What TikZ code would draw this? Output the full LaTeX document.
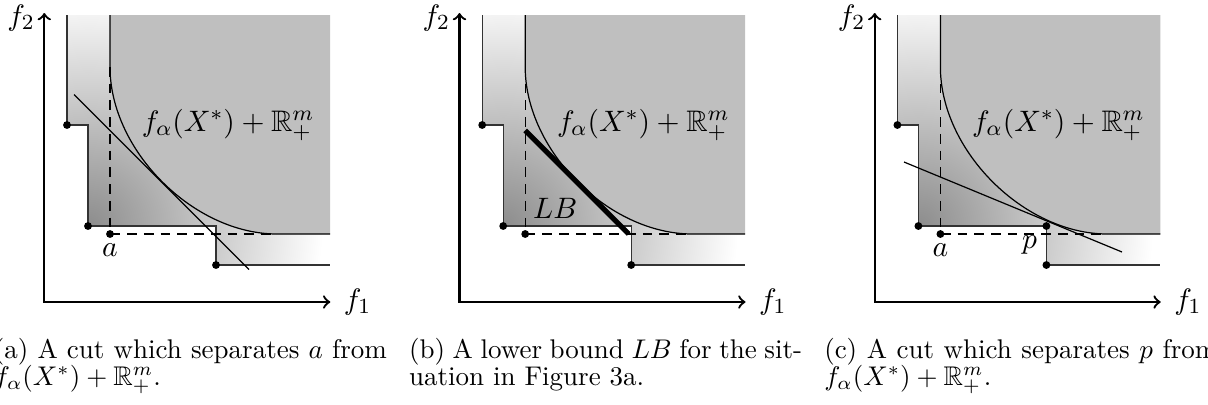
\documentclass[tikz,border=0pt]{standalone}
\usepackage{amsmath,amssymb}
\usepackage{tikz}
\tikzset{
  axisarr/.style = {<->,line width=0.85pt},
  front/.style   = {line width=0.45pt},
  stair/.style   = {line width=0.45pt,black!80},
  helper/.style  = {line width=0.45pt,dash pattern=on 3.6pt off 2.6pt},
  cutline/.style = {line width=0.45pt},
  lbline/.style  = {line width=1.9pt},
  dot/.style     = {circle,fill,inner sep=0pt,minimum size=2.9pt},
  setlabel/.style = {font=\fontsize{11pt}{13pt}\selectfont},
  caption/.style = {anchor=base west,inner sep=0pt,text width=145.6pt,align=justify,
                    font=\fontsize{10pt}{10.1pt}\selectfont}
}
\newcommand{\frontier}[1]{%
  \begin{scope}
    \clip (22.7,287) -- (22.7,177) -- (43.7,177) -- (43.7,76) -- (171.7,76)
          -- (171.7,37) -- (285.7,37) -- (285.7,287) -- cycle;
    \shade[inner color=black!45,outer color=white] (43.7,76) circle [radius=87pt];
  \end{scope}
  \fill[black!25] (65.7,287) -- (65.7,235) .. controls (65.7,151.5) and (149.2,68) .. (232.7,68)
        -- (285.7,68) -- (285.7,287) -- cycle;
  \draw[front] (65.7,287) -- (65.7,235) .. controls (65.7,151.5) and (149.2,68) .. (232.7,68)
        -- (285.7,68);
  \draw[stair] (22.7,287) -- (22.7,177) -- (43.7,177) -- (43.7,76) -- (171.7,76)
        -- (171.7,37) -- (285.7,37);
  \draw[helper] (65.7,235) -- (65.7,68) -- (232.7,68);
  \draw[axisarr] (0,289) -- (0,0) -- (286,0);
  \node[dot] (#1-y1) at (22.7,177) {};
  \node[dot] (#1-y2) at (43.7,76) {};
  \node[dot] (#1-y3) at (171.7,37) {};
  \node[dot] (#1-a) at (65.7,68) {};
  \node[left,setlabel] (#1-f2) at (0,284) {$f_2$};
  \node[right,setlabel] (#1-f1) at (290,0) {$f_1$};
  \node[setlabel] (#1-set) at (183.7,177) {$f_\alpha(X^*)+\mathbb{R}^m_+$};
}

\begin{document}
\begin{tikzpicture}[x=0.3704pt,y=0.3704pt]
  \useasboundingbox (-44.3,-102) rectangle (1163.7,302);
  % (a) cut for a
  \frontier{a}
  \draw[cutline] (29.7,207.5) -- (204.7,32.5);
  \node[below,setlabel] (a-alab) at (65.7,68) {$a$};
  % (b) lower bound
  \begin{scope}[shift={(415.2,0)}]
    \frontier{b}
    \draw[lbline] (65.7,171.5) -- (169.2,68);
    \node[setlabel] (b-lb) at (95.7,94) {$LB$};
  \end{scope}
  % (c) cut for p
  \begin{scope}[shift={(830.4,0)}]
    \frontier{c}
    \draw[cutline] (29.3,140) -- (247.3,50);
    \node[below,setlabel] (c-alab) at (65.7,68) {$a$};
    \node[dot] (c-p) at (171.7,76) {};
    \node[below left,setlabel] (c-plab) at (171.7,76) {$p$};
  \end{scope}
  \node[caption] (capa) at (-51,-56)
    {(a) A cut which separates $a$ from\linebreak $f_\alpha(X^*)+\mathbb{R}^m_+$.};
  \node[caption] (capb) at (364.2,-56)
    {(b) A lower bound $LB$ for the sit-\linebreak uation in Figure 3a.};
  \node[caption] (capc) at (779.4,-56)
    {(c) A cut which separates $p$ from\linebreak $f_\alpha(X^*)+\mathbb{R}^m_+$.};
\end{tikzpicture}
\end{document}
